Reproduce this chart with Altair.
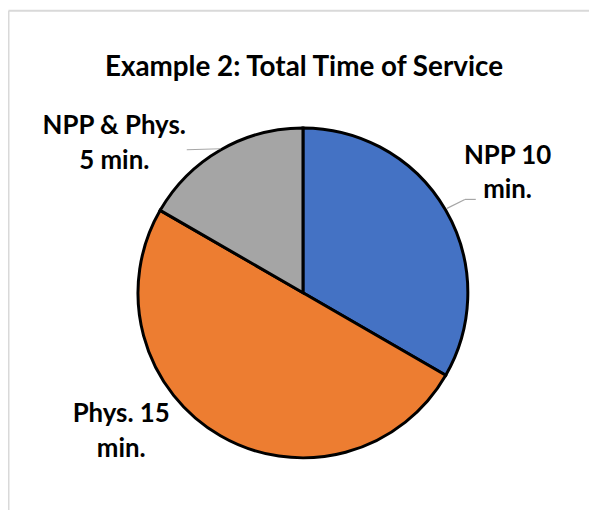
import altair as alt
import pandas as pd

# ---- data ----
categories = ["NPP 10 min.", "Phys. 15 min.", "NPP & Phys. 5 min."]
label_text = ["NPP 10\nmin.", "Phys. 15\nmin.", "NPP & Phys.\n5 min."]
minutes = [10, 15, 5]
slice_order = [0, 1, 2]
colors = ["#4472C4", "#ED7D31", "#A5A5A5"]
title_text = "Example 2: Total Time of Service"

df = pd.DataFrame({
    "category": categories,
    "label": label_text,
    "minutes": minutes,
    "order": slice_order,
})
total = sum(minutes)

CX, CY = 297, 285
FONT = "Lato"
FS = 26

base = alt.Chart(df)

pie = base.mark_arc(outerRadius=166, stroke="black", strokeWidth=3).encode(
    theta=alt.Theta("minutes:Q", stack=True),
    order=alt.Order("order:O"),
    color=alt.Color("category:N", scale=alt.Scale(domain=categories, range=colors), legend=None),
    x=alt.value(CX),
    y=alt.value(CY),
)

label_base = base.transform_window(
    cum="sum(minutes)", sort=[alt.SortField("order")], frame=[None, 0]
).transform_calculate(mid="datum.cum - datum.minutes / 2")

offsets = {"NPP 10 min.": (2.5, -12.5), "Phys. 15 min.": (-65.5, -73.5), "NPP & Phys. 5 min.": (-72.5, 43.5)}

label_layers = []
for cat in categories:
    dx, dy = offsets[cat]
    label_layers.append(
        label_base.transform_filter(alt.datum.category == cat).mark_text(
            font=FONT, fontSize=FS, fontWeight="bold", color="black",
            align="center", baseline="alphabetic", lineBreak="\n", lineHeight=35,
            dx=dx, dy=dy,
        ).encode(
            theta=alt.Theta("mid:Q", scale=alt.Scale(domain=[0, total])),
            radius=alt.value(235),
            text="label:N",
            x=alt.value(CX),
            y=alt.value(CY),
        )
    )

title = alt.Chart(pd.DataFrame({"t": [title_text]})).mark_text(
    font=FONT, fontSize=28, fontWeight="bold", color="black", align="center", baseline="alphabetic"
).encode(text="t:N", x=alt.value(CX + 1), y=alt.value(67))

leader = alt.Chart(pd.DataFrame({"k": [0, 1, 2]})).mark_rule(color="#A6A6A6", strokeWidth=1.2)
lead1 = leader.transform_filter("datum.k == 0").encode(x=alt.value(180), y=alt.value(141), x2=alt.value(214), y2=alt.value(140))
lead2 = leader.transform_filter("datum.k == 1").encode(x=alt.value(471), y=alt.value(191), x2=alt.value(460), y2=alt.value(191))
lead3 = leader.transform_filter("datum.k == 2").encode(x=alt.value(460), y=alt.value(191), x2=alt.value(442), y2=alt.value(200))

frame = alt.Chart(pd.DataFrame({"k": [0, 1]})).mark_rule(color="#D9D9D9", strokeWidth=2)
frame_left = frame.transform_filter("datum.k == 0").encode(x=alt.value(0.5), y=alt.value(1), y2=alt.value(600))
frame_top = frame.transform_filter("datum.k == 1").encode(x=alt.value(0.5), x2=alt.value(700), y=alt.value(1))

chart = alt.layer(
    frame_left, frame_top, pie, lead1, lead2, lead3, title, *label_layers
).properties(
    width=585, height=502, padding=0, background="white",
    autosize=alt.AutoSizeParams(type="none")
).configure_view(strokeWidth=0, stroke="transparent")

chart.save("out.html", embed_options={"renderer": "svg", "actions": False})
